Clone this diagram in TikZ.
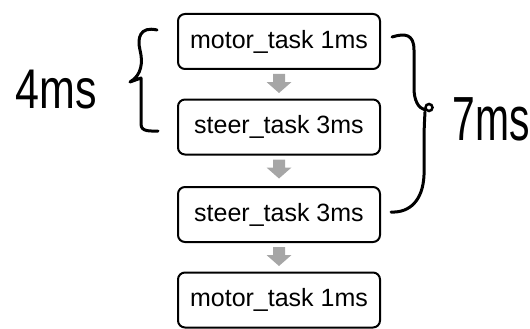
\documentclass[tikz,border=0pt]{standalone}
\usepackage{fontspec}
\setmainfont{Liberation Sans}
\usetikzlibrary{calc}
\definecolor{arrowgray}{HTML}{A6A6A6}
\tikzset{
  taskbox/.style={draw=black, line width=2pt, rounded corners=7pt, minimum width=202pt, minimum height=55pt, inner sep=0pt, font=\fontsize{25pt}{28pt}\selectfont},
  hand/.style={line width=3pt, line cap=round, line join=round},
  handtext/.style={inner sep=0pt, font=\fontsize{43pt}{48pt}\selectfont}
}
\newcommand{\grayarrow}[1]{%
  \fill[arrowgray] ($(#1.south)+(-6,4)$) -- ++(12,0) -- ++(0,8) -- ++(6.5,0)
    -- ($(#1.south)+(0,23)$) -- ($(#1.south)+(-12.5,12)$) -- ++(6.5,0) -- cycle;}
\begin{document}
\begin{tikzpicture}[x=1pt, y=-1pt]
\useasboundingbox (0,0) rectangle (530,329);
\node[taskbox] (b1) at (279,41.5) {motor\_task 1ms};
\node[taskbox] (b2) at (279,127) {steer\_task 3ms};
\node[taskbox] (b3) at (279,214.5) {steer\_task 3ms};
\node[taskbox] (b4) at (279,300) {motor\_task 1ms};
\grayarrow{b1}
\grayarrow{b2}
\grayarrow{b3}
% left brace
\draw[hand] (157,30) .. controls (140,26) and (137,38) .. (140,50)
  .. controls (143,62) and (142,75) .. (130,82) -- (141,78) -- (141,124)
  .. controls (141,132) and (150,131) .. (158,131);
% right brace
\draw[hand] (392,37) .. controls (405,33) and (414,34) .. (414,50) -- (414,88)
  .. controls (414,100) and (418,108) .. (425,110);
\draw[line width=2.5pt] (429,107.5) circle (3.5pt);
\draw[hand] (425,112) .. controls (424,130) .. (424,175)
  .. controls (423,200) and (410,213) .. (391,212);
\node[handtext] (t4) at (56,90) {\scalebox{1}[1.3]{4ms}};
\node[handtext] (t7) at (491,119) {\scalebox{0.95}[1.45]{7ms}};
\end{tikzpicture}
\end{document}
